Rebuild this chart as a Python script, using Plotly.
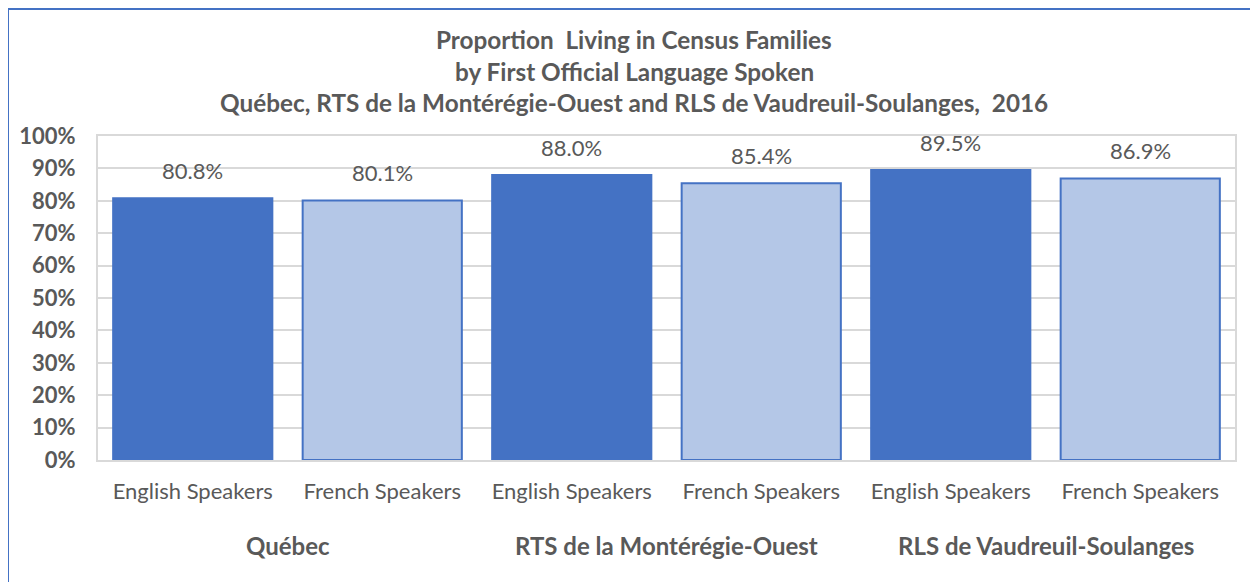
import plotly.graph_objects as go

# ---- data ----
groups = ["Québec", "RTS de la Montérégie-Ouest", "RLS de Vaudreuil-Soulanges"]
speakers = ["English Speakers", "French Speakers"]
values = [0.808, 0.801, 0.880, 0.854, 0.895, 0.869]
title_lines = [
    "Proportion  Living in Census Families",
    "by First Official Language Spoken",
    "Québec, RTS de la Montérégie-Ouest and RLS de Vaudreuil-Soulanges,  2016",
]
y_ticks = [i / 10 for i in range(11)]

# ---- build ----
FONT = "Lato"
GRAY = "#595959"
DARK = "#4472C4"
LIGHT = "#B4C7E7"

OFF = 8  # page body margin
W, H = 1258 - OFF, 582 - OFF
L, T = 98 - OFF, 136 - OFF
R = 1258 - 1235
B = 582 - 460
pw, ph = W - L - R, H - T - B
BOT = 460 - OFF  # plot bottom in figure px


def py(p):  # page pixel y -> paper
    return (BOT - (p - OFF)) / ph


def px(p):  # page pixel x -> paper
    return ((p - OFF) - L) / pw


xs, labels, colors = [], [], []
i = 0
for g in groups:
    for s in speakers:
        xs.append(i)
        labels.append(s)
        colors.append(DARK if s.startswith("English") else LIGHT)
        i += 1

fig = go.Figure()
fig.add_trace(go.Bar(
    x=xs, y=values,
    marker=dict(color=colors, line=dict(color=DARK, width=2)),
    hoverinfo="skip",
))

annotations = []
for x, v in zip(xs, values):
    annotations.append(dict(
        x=x, y=v, xref="x", yref="y", text=f"{v*100:.1f}%",
        showarrow=False, yanchor="bottom", yshift=12,
        font=dict(family=FONT, size=22, color=GRAY),
    ))
for gi, g in enumerate(groups):
    annotations.append(dict(
        x=gi * len(speakers) + (len(speakers) - 1) / 2, y=py(545),
        xref="x", yref="paper", text=f"<b>{g}</b>", showarrow=False,
        yanchor="middle", font=dict(family=FONT, size=24, color=GRAY),
    ))
title_y = [39, 71, 102]
for line, yy in zip(title_lines, title_y):
    annotations.append(dict(
        x=px(634), y=py(yy), xref="paper", yref="paper",
        text=f"<b>{line}</b>", showarrow=False, yanchor="middle", xanchor="center",
        font=dict(family=FONT, size=24.3, color=GRAY),
    ))

fig.update_layout(
    width=W, height=H,
    margin=dict(l=L, r=R, t=T, b=B, autoexpand=False),
    paper_bgcolor="white", plot_bgcolor="white",
    bargap=0.16, showlegend=False,
    annotations=annotations,
    shapes=[dict(type="rect", xref="paper", yref="paper",
                 x0=px(8), x1=1.2, y0=-0.8, y1=py(9),
                 line=dict(color=DARK, width=2), layer="below")],
    xaxis=dict(
        tickmode="array", tickvals=xs, ticktext=labels,
        range=[-0.5, len(xs) - 0.5],
        showgrid=False, zeroline=False,
        showline=True, mirror=True, linecolor="#D9D9D9", linewidth=2,
        ticks="", ticklabelstandoff=11,
        tickfont=dict(family=FONT, size=22, color=GRAY),
    ),
    yaxis=dict(
        range=[0, 1], tickvals=y_ticks, tickformat=".0%",
        showgrid=True, gridcolor="#D9D9D9", gridwidth=2, zeroline=False,
        showline=True, mirror=True, linecolor="#D9D9D9", linewidth=2,
        ticks="", ticklabelstandoff=16,
        tickfont=dict(family=FONT, size=22, color=GRAY, weight="bold"),
    ),
)

fig.write_html("out.html")
